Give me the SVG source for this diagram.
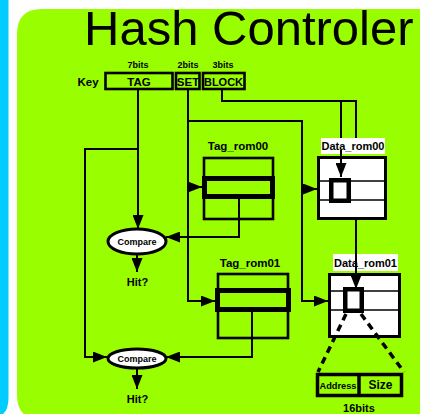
<svg xmlns="http://www.w3.org/2000/svg" width="423" height="414" viewBox="0 0 423 414">
<defs>
<marker id="ah" markerUnits="userSpaceOnUse" markerWidth="14" markerHeight="11" refX="14" refY="5.5" orient="auto">
<path d="M0,0 L14,5.5 L0,11 z" fill="#000"/>
</marker>
<style>
.ln{fill:none;stroke:#000;stroke-width:2;marker-end:url(#ah)}
.pl{fill:none;stroke:#000;stroke-width:2}
.t{font-family:"Liberation Sans",Arial,sans-serif;font-weight:bold;fill:#000;text-anchor:middle}
.box{fill:none;stroke:#000;stroke-width:2.6}
.row{fill:none;stroke:#000;stroke-width:5}
.dbox{fill:#fff;stroke:#000;stroke-width:3}
.sel{fill:#fff;stroke:#000;stroke-width:4.5}
.rl{stroke:#000;stroke-width:1.6}
.lbg{fill:#fff}
</style>
</defs>
<rect width="423" height="414" fill="#fff"/>
<path d="M0,0 H8.5 V398 Q8.5,412 0,416 Z" fill="#00ccff"/>
<path d="M17,34 Q17,9 42,9 H420 V420 H42 Q17,420 17,395 Z" fill="#99ff00"/>
<text x="84" y="44.5" style="font-family:'Liberation Sans',Arial,sans-serif;font-size:49px;fill:#000">Hash Controler</text>

<g id="key">
<text class="t" x="88" y="86" font-size="11.5">Key</text>
<text class="t" x="138" y="68" font-size="9">7bits</text>
<text class="t" x="188" y="68" font-size="9">2bits</text>
<text class="t" x="223" y="68" font-size="9">3bits</text>
<rect class="box" x="105.5" y="73" width="67" height="16"/>
<rect class="box" x="176" y="73" width="23.5" height="16"/>
<rect class="box" x="203" y="73" width="41.5" height="16"/>
<text class="t" x="139" y="86" font-size="11.5">TAG</text>
<text class="t" x="188" y="86" font-size="11.5">SET</text>
<text class="t" x="223.5" y="86" font-size="11.5" textLength="39" lengthAdjust="spacingAndGlyphs">BLOCK</text>
</g>

<g id="connectors">
<path class="ln" d="M138,89 V229"/>
<path class="ln" d="M138,149 H85 V357 H107"/>
<path class="ln" d="M137,254 V272"/>
<path class="ln" d="M137,368 V389"/>
<path class="ln" d="M188,89 V301 H215"/>
<path class="ln" d="M188,187 H202"/>
<path class="ln" d="M188,121 H302 V301 H328"/>
<path class="ln" d="M302,189 H317"/>
<path class="pl" d="M222,89 V101 H356 V138"/>
<path class="ln" d="M356,220 V289"/>
<path class="ln" d="M341,101 V177"/>
<path class="ln" d="M239,199 V237 H166"/>
<path class="ln" d="M252,312 V357 H166"/>
</g>

<g id="tag_rom00">
<text class="t" x="238" y="150" font-size="11.5">Tag_rom00</text>
<rect class="box" x="204" y="158" width="69" height="61"/>
<rect class="row" x="204.5" y="178.5" width="68" height="18"/>
</g>

<g id="tag_rom01">
<text class="t" x="250" y="267" font-size="11.5">Tag_rom01</text>
<rect class="box" x="218" y="274" width="70" height="64"/>
<rect class="row" x="217.5" y="290.5" width="71" height="19"/>
</g>

<g id="data_rom00">
<rect class="lbg" x="321" y="138" width="64" height="16"/>
<text class="t" x="353" y="150" font-size="11">Data_rom00</text>
<rect class="dbox" x="318.5" y="157.5" width="67" height="61"/>
<line class="rl" x1="318.5" y1="181" x2="385.5" y2="181"/>
<line class="rl" x1="318.5" y1="200" x2="385.5" y2="200"/>
<rect class="sel" x="331.25" y="180.25" width="17.5" height="20.5"/>
</g>

<g id="data_rom01">
<rect class="lbg" x="333" y="254" width="65" height="17"/>
<text class="t" x="365.5" y="267" font-size="11">Data_rom01</text>
<rect class="dbox" x="329.5" y="274.5" width="70" height="62"/>
<line class="rl" x1="329.5" y1="291" x2="399.5" y2="291"/>
<line class="rl" x1="329.5" y1="310" x2="399.5" y2="310"/>
<rect class="sel" x="345.25" y="289.25" width="16.5" height="21.5"/>
</g>

<g id="arrows_over">
<path class="ln" d="M341,150 V177"/>
<path class="ln" d="M356,250 V289"/>
</g>

<g id="compare1">
<ellipse cx="137" cy="241.5" rx="29" ry="12.5" fill="#fff" stroke="#000" stroke-width="3"/>
<text class="t" x="137" y="245" font-size="9">Compare</text>
<text class="t" x="137.5" y="286" font-size="11">Hit?</text>
</g>

<g id="compare2">
<ellipse cx="137" cy="358.5" rx="29" ry="9.5" fill="#fff" stroke="#000" stroke-width="3"/>
<text class="t" x="137" y="362" font-size="9">Compare</text>
<text class="t" x="137.5" y="403" font-size="11">Hit?</text>
</g>

<g id="entry">
<path d="M346,314 L318,372 M361,314 L404,372" fill="none" stroke="#000" stroke-width="3.5" stroke-dasharray="7,5"/>
<rect x="317.5" y="374.5" width="84" height="21" fill="none" stroke="#000" stroke-width="3.5"/>
<line x1="359" y1="374.5" x2="359" y2="395.5" stroke="#000" stroke-width="3.5"/>
<text class="t" x="338" y="389" font-size="9.2" textLength="37" lengthAdjust="spacingAndGlyphs">Address</text>
<text class="t" x="380.5" y="389" font-size="12">Size</text>
<text class="t" x="359" y="412" font-size="11">16bits</text>
</g>
</svg>
